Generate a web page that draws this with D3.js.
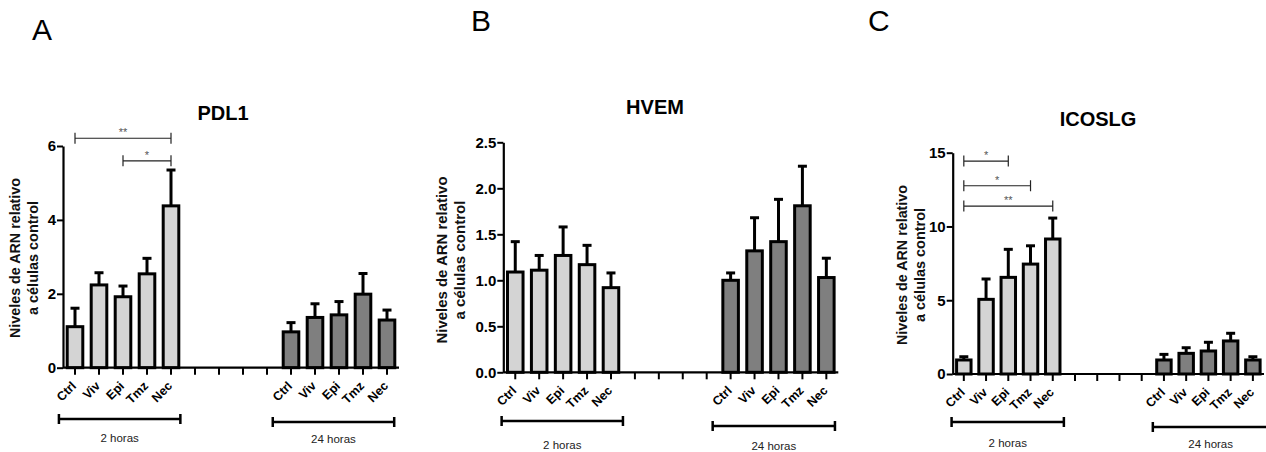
<!DOCTYPE html>
<meta charset="utf-8">
<style>
  body { margin: 0; background: #fff; }
  text { font-family: "Liberation Sans", Arial, sans-serif; }
</style>
<body>
<script src="https://cdn.jsdelivr.net/npm/d3@7"></script>
<script>

// ---- data ----
var categories = ["Ctrl", "Viv", "Epi", "Tmz", "Nec"];
var groupLabels = ["2 horas", "24 horas"];

var pdl1_2h      = [1.11, 2.24, 1.92, 2.54, 4.38];
var pdl1_2h_sem  = [0.50, 0.33, 0.29, 0.42, 0.97];
var pdl1_24h     = [0.97, 1.36, 1.43, 1.99, 1.29];
var pdl1_24h_sem = [0.25, 0.37, 0.36, 0.56, 0.27];

var hvem_2h      = [1.09, 1.11, 1.27, 1.17, 0.92];
var hvem_2h_sem  = [0.33, 0.16, 0.31, 0.21, 0.16];
var hvem_24h     = [1.00, 1.32, 1.42, 1.81, 1.03];
var hvem_24h_sem = [0.08, 0.36, 0.46, 0.43, 0.21];

var icoslg_2h      = [0.95, 5.06, 6.55, 7.45, 9.15];
var icoslg_2h_sem  = [0.22, 1.38, 1.90, 1.24, 1.42];
var icoslg_24h     = [0.95, 1.40, 1.56, 2.24, 0.95];
var icoslg_24h_sem = [0.38, 0.38, 0.59, 0.52, 0.22];

var pdl1Ticks = [0, 2, 4, 6];
var hvemTicks = [0, 0.5, 1.0, 1.5, 2.0, 2.5];
var icoslgTicks = [0, 5, 10, 15];

// significance comparisons (2 h group): [from, to, label]
var pdl1Sig = [["Ctrl", "Nec", "**"], ["Epi", "Nec", "*"]];
var hvemSig = [];
var icoslgSig = [["Ctrl", "Epi", "*"], ["Ctrl", "Tmz", "*"], ["Ctrl", "Nec", "**"]];

// ---- layout ----
var W = 1266, H = 452;
var nSlots = 14;          // 5 bars, 4 empty slots, 5 bars
var offset24 = 9;

var panels = [
  { letter: "A", letterPos: [32, 40], title: "PDL1", titlePos: [223, 120],
    x0: 63, x1: 399, yBot: 367.7, yTop: 146, max: 6, ticks: pdl1Ticks, fmt: d3.format("d"),
    ylab: [15, 258], ylabLen: [160, 114],
    m2: pdl1_2h, e2: pdl1_2h_sem, m24: pdl1_24h, e24: pdl1_24h_sem,
    sig: pdl1Sig, sigY: [6.21, 5.60],
    gb: [[-0.17, -0.11], [-0.26, -0.2]], gbY: [419, 422], gbLabY: [442, 443] },
  { letter: "B", letterPos: [471, 31], title: "HVEM", titlePos: [655, 114],
    x0: 503.3, x1: 838.3, yBot: 372.3, yTop: 142.3, max: 2.5, ticks: hvemTicks, fmt: d3.format(".1f"),
    ylab: [442, 260], ylabLen: [167, 119],
    m2: hvem_2h, e2: hvem_2h_sem, m24: hvem_24h, e24: hvem_24h_sem,
    sig: hvemSig, sigY: [],
    gb: [[-0.07, 0], [-0.25, -0.14]], gbY: [421, 426], gbLabY: [449, 450] },
  { letter: "C", letterPos: [868, 31], title: "ICOSLG", titlePos: [1098, 126],
    x0: 952.7, x1: 1264, yBot: 374, yTop: 152.7, max: 15, ticks: icoslgTicks, fmt: d3.format("d"),
    ylab: [902, 265], ylabLen: [160, 114],
    m2: icoslg_2h, e2: icoslg_2h_sem, m24: icoslg_24h, e24: icoslg_24h_sem,
    sig: icoslgSig, sigY: [14.43, 12.76, 11.38],
    gb: [[-0.05, 0], [0, 0.2]], gbY: [422, 427], gbLabY: [447, 448] }
];

var svg = d3.select("body").append("svg")
    .attr("width", W)
    .attr("height", H);

panels.forEach(function(p) {
  var g = svg.append("g");

  var x = d3.scaleBand()
      .domain(d3.range(nSlots))
      .range([p.x0, p.x1])
      .paddingInner(0.35)
      .paddingOuter(0.175);
  var step = (p.x1 - p.x0) / nSlots;
  var cx = function(i) { return x(i) + x.bandwidth() / 2; };

  var y = d3.scaleLinear().domain([0, p.max]).range([p.yBot, p.yTop]);

  // panel letter + title
  g.append("text")
      .attr("x", p.letterPos[0]).attr("y", p.letterPos[1])
      .style("font-size", "30px")
      .text(p.letter);
  g.append("text")
      .attr("x", p.titlePos[0]).attr("y", p.titlePos[1])
      .attr("text-anchor", "middle")
      .style("font-size", "20px").style("font-weight", "bold")
      .text(p.title);

  // bars
  var rows = [];
  categories.forEach(function(c, i) {
    rows.push({ slot: i, cat: c, m: p.m2[i], e: p.e2[i], fill: "#d4d4d4" });
    rows.push({ slot: i + offset24, cat: c, m: p.m24[i], e: p.e24[i], fill: "#7f7f7f" });
  });

  // error bars (upper only)
  var err = g.append("g").attr("stroke", "#000").attr("stroke-width", 3);
  err.selectAll("line.v").data(rows).enter().append("line")
      .attr("class", "v")
      .attr("x1", function(d) { return cx(d.slot); })
      .attr("x2", function(d) { return cx(d.slot); })
      .attr("y1", function(d) { return y(d.m); })
      .attr("y2", function(d) { return y(d.m + d.e); });
  err.selectAll("line.c").data(rows).enter().append("line")
      .attr("class", "c")
      .attr("x1", function(d) { return cx(d.slot) - 4.5; })
      .attr("x2", function(d) { return cx(d.slot) + 4.5; })
      .attr("y1", function(d) { return y(d.m + d.e); })
      .attr("y2", function(d) { return y(d.m + d.e); });

  g.selectAll("rect.bar").data(rows).enter().append("rect")
      .attr("class", "bar")
      .attr("x", function(d) { return x(d.slot); })
      .attr("width", x.bandwidth())
      .attr("y", function(d) { return y(d.m); })
      .attr("height", function(d) { return y(0) - y(d.m); })
      .attr("fill", function(d) { return d.fill; })
      .attr("stroke", "#000")
      .attr("stroke-width", 3);

  // y axis
  var yAxis = d3.axisLeft(y).tickValues(p.ticks).tickFormat(p.fmt).tickSize(6).tickSizeOuter(0);
  var ga = g.append("g")
      .attr("transform", "translate(" + p.x0 + ",0)")
      .call(yAxis);
  ga.select(".domain").attr("stroke-width", 2.2);
  ga.selectAll(".tick line").attr("stroke-width", 2);
  ga.selectAll(".tick text")
      .attr("x", -7)
      .style("font-size", "15px").style("font-weight", "bold")
      .style("font-family", "'Liberation Sans', Arial, sans-serif")
      .attr("fill", "#000");

  // x axis
  var xAxis = d3.axisBottom(x).tickSize(7).tickSizeOuter(0).tickFormat("");
  var gx = g.append("g")
      .attr("transform", "translate(0," + p.yBot + ")")
      .call(xAxis);
  gx.select(".domain").attr("stroke-width", 2.2).attr("d", "M" + p.x0 + ",0H" + p.x1);
  gx.selectAll(".tick line").attr("stroke-width", 2);

  // category labels, rotated
  g.selectAll("text.cat").data(rows).enter().append("text")
      .attr("class", "cat")
      .attr("text-anchor", "end")
      .attr("transform", function(d) {
        return "translate(" + (cx(d.slot) + 2) + "," + (p.yBot + 19) + ") rotate(-45)";
      })
      .style("font-size", "12.5px").style("font-weight", "bold")
      .text(function(d) { return d.cat; });

  // y axis title
  var yl = g.append("text")
      .attr("transform", "translate(" + p.ylab[0] + "," + p.ylab[1] + ") rotate(-90)")
      .attr("text-anchor", "middle")
      .style("font-size", "15.5px").style("font-weight", "bold")
      .attr("fill", "#111");
  yl.append("tspan").attr("x", 0).attr("dy", "0.35em")
      .attr("textLength", p.ylabLen[0]).attr("lengthAdjust", "spacingAndGlyphs")
      .text("Niveles de ARN relativo");
  yl.append("tspan").attr("x", 0).attr("dy", "1.15em")
      .attr("textLength", p.ylabLen[1]).attr("lengthAdjust", "spacingAndGlyphs")
      .text("a células control");

  // significance brackets
  var sg = g.append("g");
  p.sig.forEach(function(s, k) {
    var xa = cx(categories.indexOf(s[0])),
        xb = cx(categories.indexOf(s[1])),
        yy = y(p.sigY[k]);
    sg.append("path")
        .attr("d", "M" + xa + "," + (yy - 5.5) + "V" + (yy + 5.5) +
                   "M" + xa + "," + yy + "H" + xb +
                   "M" + xb + "," + (yy - 5.5) + "V" + (yy + 5.5))
        .attr("fill", "none").attr("stroke", "#222").attr("stroke-width", 1.2);
    sg.append("text")
        .attr("x", (xa + xb) / 2).attr("y", yy - 2)
        .attr("text-anchor", "middle")
        .style("font-size", "11px").attr("fill", "#555")
        .text(s[2]);
  });

  // group brackets under the axis
  [[0, 4], [offset24, offset24 + 4]].forEach(function(r, k) {
    var xa = x(r[0]) - x.paddingOuter() * step + p.gb[k][0] * step,
        xb = x(r[1]) + x.bandwidth() + x.paddingOuter() * step + p.gb[k][1] * step,
        yy = p.gbY[k];
    g.append("path")
        .attr("d", "M" + xa + "," + (yy - 5) + "V" + (yy + 5) +
                   "M" + xa + "," + yy + "H" + xb +
                   "M" + xb + "," + (yy - 5) + "V" + (yy + 5))
        .attr("fill", "none").attr("stroke", "#000").attr("stroke-width", 2.5);
    g.append("text")
        .attr("x", (xa + xb) / 2).attr("y", p.gbLabY[k])
        .attr("text-anchor", "middle")
        .style("font-size", "11.5px").attr("fill", "#222")
        .text(groupLabels[k]);
  });
});

</script>
</body>
